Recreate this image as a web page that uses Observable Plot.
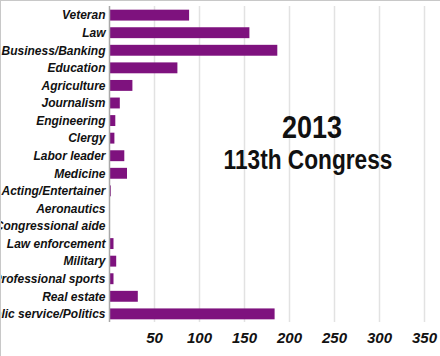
<!DOCTYPE html>
<html>
<head>
<meta charset="utf-8">
<script src="https://cdn.jsdelivr.net/npm/d3@7"></script>
<script src="https://cdn.jsdelivr.net/npm/@observablehq/plot@0.6"></script>
<style>
  html, body { margin: 0; padding: 0; background: #fff; }
  #wrap { position: relative; width: 440px; height: 356px; overflow: hidden; }
  #border { position: absolute; left: 0; top: 0; width: 440px; height: 356px; border-top: 1px solid #c8c8c8; border-left: 1px solid #c8c8c8; box-sizing: border-box; pointer-events: none; }
  .t { position: absolute; font-family: "Liberation Sans", Arial, sans-serif; font-weight: bold; color: #111; white-space: nowrap; line-height: 1; transform-origin: 0 0; }
</style>
</head>
<body>
<div id="wrap">
  <div id="chart"></div>
  <div class="t" id="year" style="left:312px; top:112px; font-size:31px; transform: scaleX(0.87) translateX(-50%);">2013</div>
  <div class="t" id="cong" style="left:308px; top:146px; font-size:28px; transform: scaleX(0.81) translateX(-50%);">113th Congress</div>
  <div id="border"></div>
</div>
<script>
const categories = ["Veteran", "Law", "Business/Banking", "Education", "Agriculture", "Journalism", "Engineering", "Clergy", "Labor leader", "Medicine", "Acting/Entertainer", "Aeronautics", "Congressional aide", "Law enforcement", "Military", "Professional sports", "Real estate", "Public service/Politics"];
const counts = [89, 156, 187, 76, 26, 12, 7, 6, 17, 20, 2, 1, 0, 5, 8, 5, 32, 184];
const xTicks = [50, 100, 150, 200, 250, 300, 350];

const data = categories.map((c, i) => ({category: c, count: counts[i]}));

const chart = Plot.plot({
  width: 440,
  height: 356,
  marginLeft: 109,
  marginRight: 16,
  marginTop: 3,
  marginBottom: 30,
  style: {fontFamily: "'Liberation Sans', Arial, sans-serif", color: "#111", background: "transparent", overflow: "visible"},
  x: {domain: [0, 350], ticks: xTicks, label: null},
  y: {domain: categories, padding: 0.38, round: false, label: null},
  marks: [
    Plot.gridX(xTicks, {stroke: "#e2e2e2", strokeOpacity: 1, strokeWidth: 1.5, insetTop: 3, insetBottom: 4}),
    Plot.barX(data, {x: "count", y: "category", fill: "#7e127e"}),
    Plot.ruleX([0], {stroke: "#a8a8a8", strokeWidth: 1.5, insetTop: 3, insetBottom: 4}),
    Plot.axisY({tickSize: 0, tickPadding: 4, fontSize: 12, fontWeight: "bold", fontStyle: "italic", label: null}),
    Plot.axisX(xTicks, {tickSize: 0, tickPadding: 6, fontSize: 15, fontWeight: "bold", fontStyle: "italic", label: null})
  ]
});
document.getElementById("chart").appendChild(chart);
</script>
</body>
</html>
